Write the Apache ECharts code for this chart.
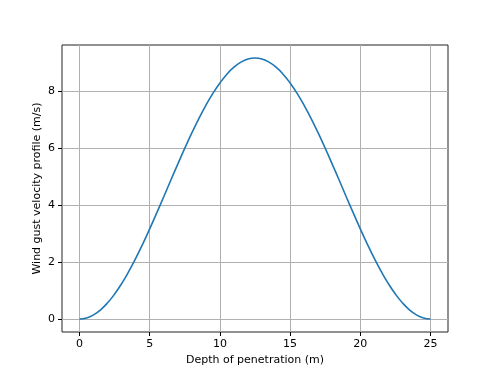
<!DOCTYPE html>
<html>
<head>
<meta charset="utf-8">
<script src="https://cdn.jsdelivr.net/npm/echarts@6/dist/echarts.min.js"></script>
<style>
  html, body { margin: 0; padding: 0; background: #fff; }
  #chart { width: 498px; height: 374px; }
</style>
</head>
<body>
<div id="chart"></div>
<script>
// depth (m), read every 0.5 m along the curve
var depth = [];
for (var i = 0; i <= 50; i++) depth.push(i * 0.5);
// gust velocity (m/s)
var gust = [
  0.000, 0.036, 0.144, 0.322, 0.567, 0.875, 1.241, 1.661, 2.126, 2.630,
  3.165, 3.722, 4.292, 4.868, 5.438, 5.995, 6.530, 7.034, 7.499, 7.919,
  8.285, 8.594, 8.838, 9.016, 9.124, 9.160,
  9.124, 9.016, 8.838, 8.594, 8.285, 7.919, 7.499, 7.034, 6.530, 5.995,
  5.438, 4.868, 4.292, 3.722, 3.165, 2.630, 2.126, 1.661, 1.241, 0.875,
  0.567, 0.322, 0.144, 0.036, 0.000
];
var xTicks = [0, 5, 10, 15, 20, 25];
var yTicks = [0, 2, 4, 6, 8];

var myChart = echarts.init(document.getElementById('chart'));
var font = 'DejaVu Sans';
var option = {
  animation: false,
  backgroundColor: '#fff',
  grid: {
    left: 62, top: 45, width: 386, height: 287,
    show: true, borderColor: '#222', borderWidth: 1,
    backgroundColor: 'transparent'
  },
  xAxis: {
    type: 'value',
    min: -1.25,
    max: 26.25,
    name: 'Depth of penetration (m)',
    nameLocation: 'middle',
    nameGap: 23,
    nameMoveOverlap: false,
    nameTextStyle: {color: '#000', fontSize: 11, fontFamily: font},
    axisLine: {show: false, onZero: false},
    axisTick: {show: true, inside: false, length: 4, customValues: xTicks, lineStyle: {color: '#000'}},
    axisLabel: {customValues: xTicks, color: '#000', fontSize: 11, fontFamily: font, margin: 7},
    splitLine: {show: true, lineStyle: {color: '#b0b0b0', width: 1}}
  },
  yAxis: {
    type: 'value',
    min: -0.458,
    max: 9.618,
    name: 'Wind gust velocity profile (m/s)',
    nameLocation: 'middle',
    nameGap: 19,
    nameMoveOverlap: false,
    nameTextStyle: {color: '#000', fontSize: 11, fontFamily: font},
    axisLine: {show: false, onZero: false},
    axisTick: {show: true, inside: false, length: 4, customValues: yTicks, lineStyle: {color: '#000'}},
    axisLabel: {customValues: yTicks, color: '#000', fontSize: 11, fontFamily: font, margin: 7},
    splitLine: {show: true, lineStyle: {color: '#b0b0b0', width: 1}}
  },
  series: [{
    type: 'line',
    data: depth.map(function (d, i) { return [d, gust[i]]; }),
    smooth: true,
    showSymbol: false,
    lineStyle: {color: '#1f77b4', width: 1.6},
    itemStyle: {color: '#1f77b4'}
  }]
};
myChart.setOption(option);
</script>
</body>
</html>
